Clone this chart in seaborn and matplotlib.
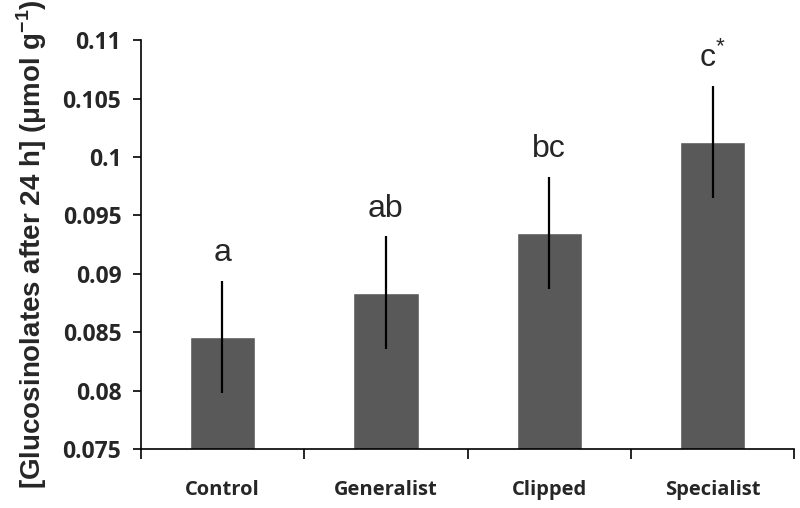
import matplotlib
matplotlib.use("Agg")
import matplotlib.pyplot as plt
import pandas as pd
import numpy as np
import seaborn as sns

# Data
treatments = ["Control", "Generalist", "Clipped", "Specialist"]
means = [0.0846, 0.0884, 0.0935, 0.1013]
errors = [0.0048, 0.0048, 0.0048, 0.0048]
letters = ["a", "ab", "bc", r"c$^{\mathregular{*}}$"]

df = pd.DataFrame({"treatment": treatments, "value": means, "err": errors})

sns.set_style("white")
plt.rcParams["font.family"] = ["Open Sans", "DejaVu Sans"]

fig = plt.figure(figsize=(8, 5.08), dpi=100)
ax = fig.add_axes([0.176, 0.116, 0.817, 0.805])

sns.barplot(data=df, x="treatment", y="value", color="#595959",
            saturation=1, width=0.4, errorbar=None, ax=ax)

xpos = np.arange(len(treatments))
ax.errorbar(xpos, df["value"], yerr=df["err"], fmt="none",
            ecolor="black", elinewidth=1.6, capsize=0)

for x, top, lab in zip(xpos, df["value"] + df["err"], letters):
    ax.annotate(lab, (x, top), xytext=(0, 9), textcoords="offset points",
                ha="center", va="bottom", fontsize=23,
                fontfamily="Liberation Sans")

ax.set_ylim(0.075, 0.11)
ax.set_xlim(-0.5, len(treatments) - 0.5)
ax.set_yticks(np.arange(0.075, 0.1101, 0.005))
ax.set_yticklabels(["0.075", "0.08", "0.085", "0.09", "0.095", "0.1", "0.105", "0.11"])

# tick marks between categories, labels at the centres
ax.set_xticks(xpos)
ax.set_xticks(np.arange(-0.5, len(treatments)), minor=True)
ax.tick_params(axis="x", which="major", bottom=True, length=0, pad=22)
ax.tick_params(axis="x", which="minor", bottom=True, length=7, width=1.2,
               direction="out", color="black")
ax.tick_params(axis="y", left=True, length=6, width=1.2, direction="out",
               color="black", pad=8)
for lab in ax.get_xticklabels():
    lab.set_fontsize(14.5)
    lab.set_fontweight("bold")
for lab in ax.get_yticklabels():
    lab.set_fontsize(16.5)
    lab.set_fontweight("bold")

ax.set_xlabel("")
ax.set_ylabel(r"[Glucosinolates after 24 h] ($\mathregular{\mu}$mol g$^{\mathregular{-1}}$)",
              fontsize=20, fontweight="bold", fontfamily="Liberation Sans",
              labelpad=10)

sns.despine(ax=ax)
for s in ["left", "bottom"]:
    ax.spines[s].set_color("black")
    ax.spines[s].set_linewidth(1.2)

fig.savefig("out.png", dpi=100)
